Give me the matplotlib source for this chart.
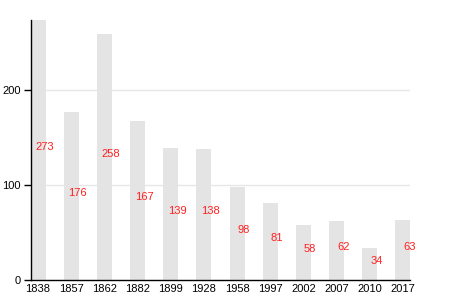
import matplotlib
matplotlib.use("Agg")
import matplotlib.pyplot as plt
import numpy as np

# years and values
years = ["1838", "1857", "1862", "1882", "1899", "1928",
         "1958", "1997", "2002", "2007", "2010", "2017"]
values = [273, 176, 258, 167, 139, 138, 98, 81, 58, 62, 34, 63]

plt.rcParams['font.family'] = ['Liberation Sans', 'DejaVu Sans']

fig = plt.figure(figsize=(4.5, 3), dpi=100)
ax = fig.add_axes([0.068, 0.0667, 0.844, 0.8663])

x = np.arange(len(years))
w = 0.45
ax.bar(x, values, width=w, color='#e4e4e4', zorder=2)

# value labels, red, sitting at half the bar height
for xi, v in zip(x, values):
    ax.text(xi + 0.2, v / 2, str(v), color='#ff2020', fontsize=8,
            ha='center', va='baseline', zorder=3)

ax.set_xlim(-w / 2, len(years) - 1 + w / 2)
ax.set_ylim(0, max(values))
ax.set_xticks(x)
ax.set_xticklabels(years)
ax.set_yticks([0, 100, 200])

ax.yaxis.grid(True, color='#e6e6e6', lw=1, zorder=0)
ax.set_axisbelow(True)

for s in ['top', 'right']:
    ax.spines[s].set_visible(False)
ax.spines['left'].set_linewidth(1)
ax.spines['bottom'].set_linewidth(1)
ax.tick_params(axis='x', length=0, pad=3, labelsize=8)
ax.tick_params(axis='y', length=5, width=1, pad=2, labelsize=8)

plt.savefig('out.png', dpi=100)
